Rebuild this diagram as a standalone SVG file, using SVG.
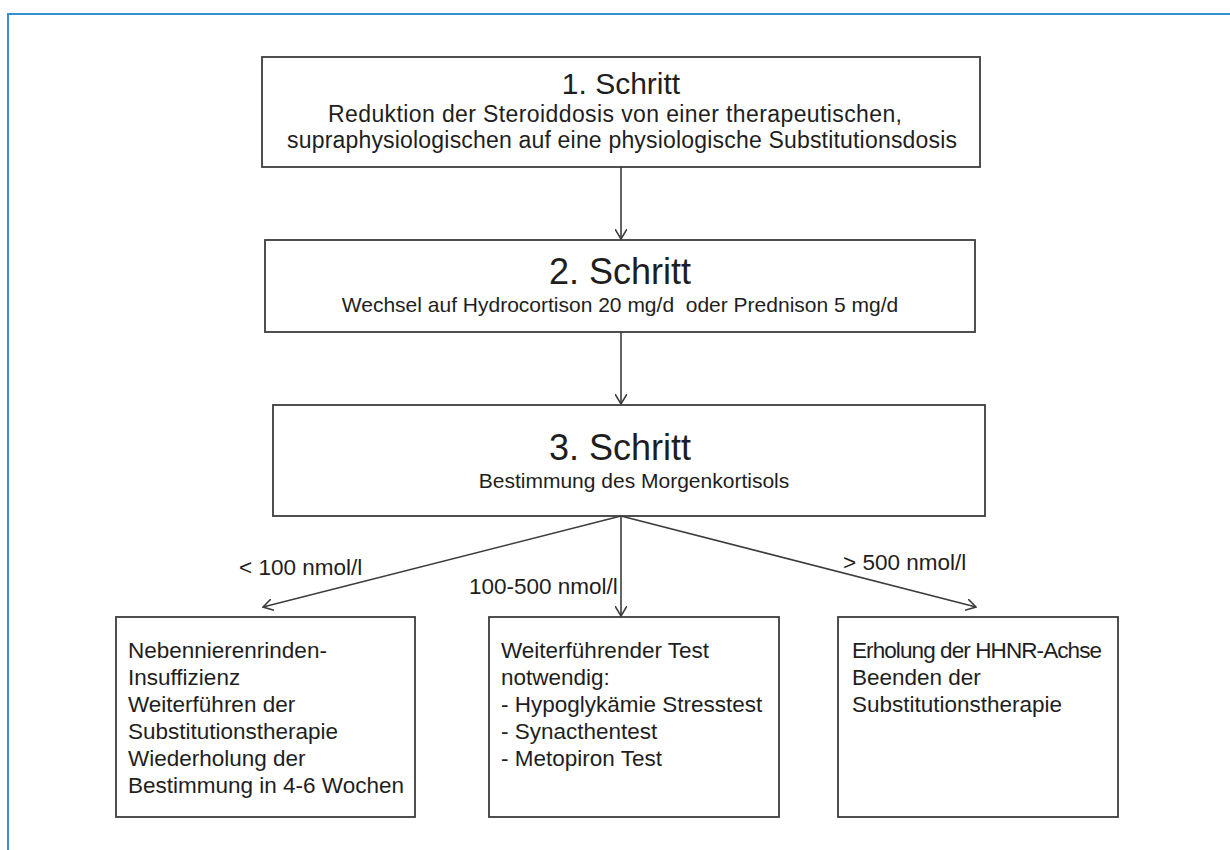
<svg xmlns="http://www.w3.org/2000/svg" width="1230" height="850" viewBox="0 0 1230 850">
<style>
.box{fill:#fff;stroke:#3c3c3c;stroke-width:1.8}
.t{font-family:"Liberation Sans",Arial,sans-serif;fill:#1e1e1e}
.title1{font-size:30px;text-anchor:middle}
.title{font-size:36px;text-anchor:middle}
.sub1{font-size:23px;text-anchor:middle}
.sub{font-size:21px;text-anchor:middle}
.body{font-size:22.5px}
.lbl{font-size:22.5px}
.conn{stroke:#3c3c3c;stroke-width:1.6;fill:none;marker-end:url(#arr)}
</style>
<defs>
<marker id="arr" markerUnits="userSpaceOnUse" viewBox="0 0 11 12" markerWidth="11" markerHeight="12" refX="10" refY="6" orient="auto">
<path d="M0,0 L10,6 L0,12" fill="none" stroke="#3c3c3c" stroke-width="1.6"/>
</marker>
</defs>
<rect x="0" y="0" width="1230" height="850" fill="#fff"/>
<rect x="8" y="14" width="1250" height="870" fill="none" stroke="#3592d2" stroke-width="2"/>

<g id="step1">
<rect class="box" x="262" y="57" width="718" height="110"/>
<text class="t title1" x="621" y="94">1. Schritt</text>
<text class="t sub1" x="615" y="121.6" textLength="574">Reduktion der Steroiddosis von einer therapeutischen,</text>
<text class="t sub1" x="622" y="147.5" textLength="670">supraphysiologischen auf eine physiologische Substitutionsdosis</text>
</g>

<g id="step2">
<rect class="box" x="265" y="240" width="710" height="92"/>
<text class="t title" x="620" y="284">2. Schritt</text>
<text class="t sub" x="620" y="312" xml:space="preserve">Wechsel auf Hydrocortison 20 mg/d  oder Prednison 5 mg/d</text>
</g>

<g id="step3">
<rect class="box" x="273" y="405" width="712" height="111"/>
<text class="t title" x="620" y="460">3. Schritt</text>
<text class="t sub" x="634" y="488">Bestimmung des Morgenkortisols</text>
</g>

<g id="result-low">
<rect class="box" x="116" y="617" width="299" height="200"/>
<text class="t body" x="128" y="658">Nebennierenrinden-</text>
<text class="t body" x="128" y="685">Insuffizienz</text>
<text class="t body" x="128" y="712">Weiterführen der</text>
<text class="t body" x="128" y="739">Substitutionstherapie</text>
<text class="t body" x="128" y="766">Wiederholung der</text>
<text class="t body" x="128" y="793">Bestimmung in 4-6 Wochen</text>
</g>

<g id="result-mid">
<rect class="box" x="489" y="617" width="290" height="200"/>
<text class="t body" x="501" y="658">Weiterführender Test</text>
<text class="t body" x="501" y="685">notwendig:</text>
<text class="t body" x="501" y="712">- Hypoglykämie Stresstest</text>
<text class="t body" x="501" y="739">- Synacthentest</text>
<text class="t body" x="501" y="766">- Metopiron Test</text>
</g>

<g id="result-high">
<rect class="box" x="838" y="617" width="280" height="200"/>
<text class="t body" x="852" y="658" textLength="250">Erholung der HHNR-Achse</text>
<text class="t body" x="852" y="685">Beenden der</text>
<text class="t body" x="852" y="712">Substitutionstherapie</text>
</g>

<g id="connectors">
<line class="conn" x1="621" y1="167" x2="621" y2="239"/>
<line class="conn" x1="621" y1="332" x2="621" y2="404"/>
<line class="conn" x1="621" y1="516" x2="263" y2="607"/>
<line class="conn" x1="621" y1="516" x2="621" y2="616"/>
<line class="conn" x1="621" y1="516" x2="976" y2="607"/>
<text class="t lbl" x="239" y="575">&lt; 100 nmol/l</text>
<text class="t lbl" x="469" y="594">100-500 nmol/l</text>
<text class="t lbl" x="843" y="570">&gt; 500 nmol/l</text>
</g>
</svg>
